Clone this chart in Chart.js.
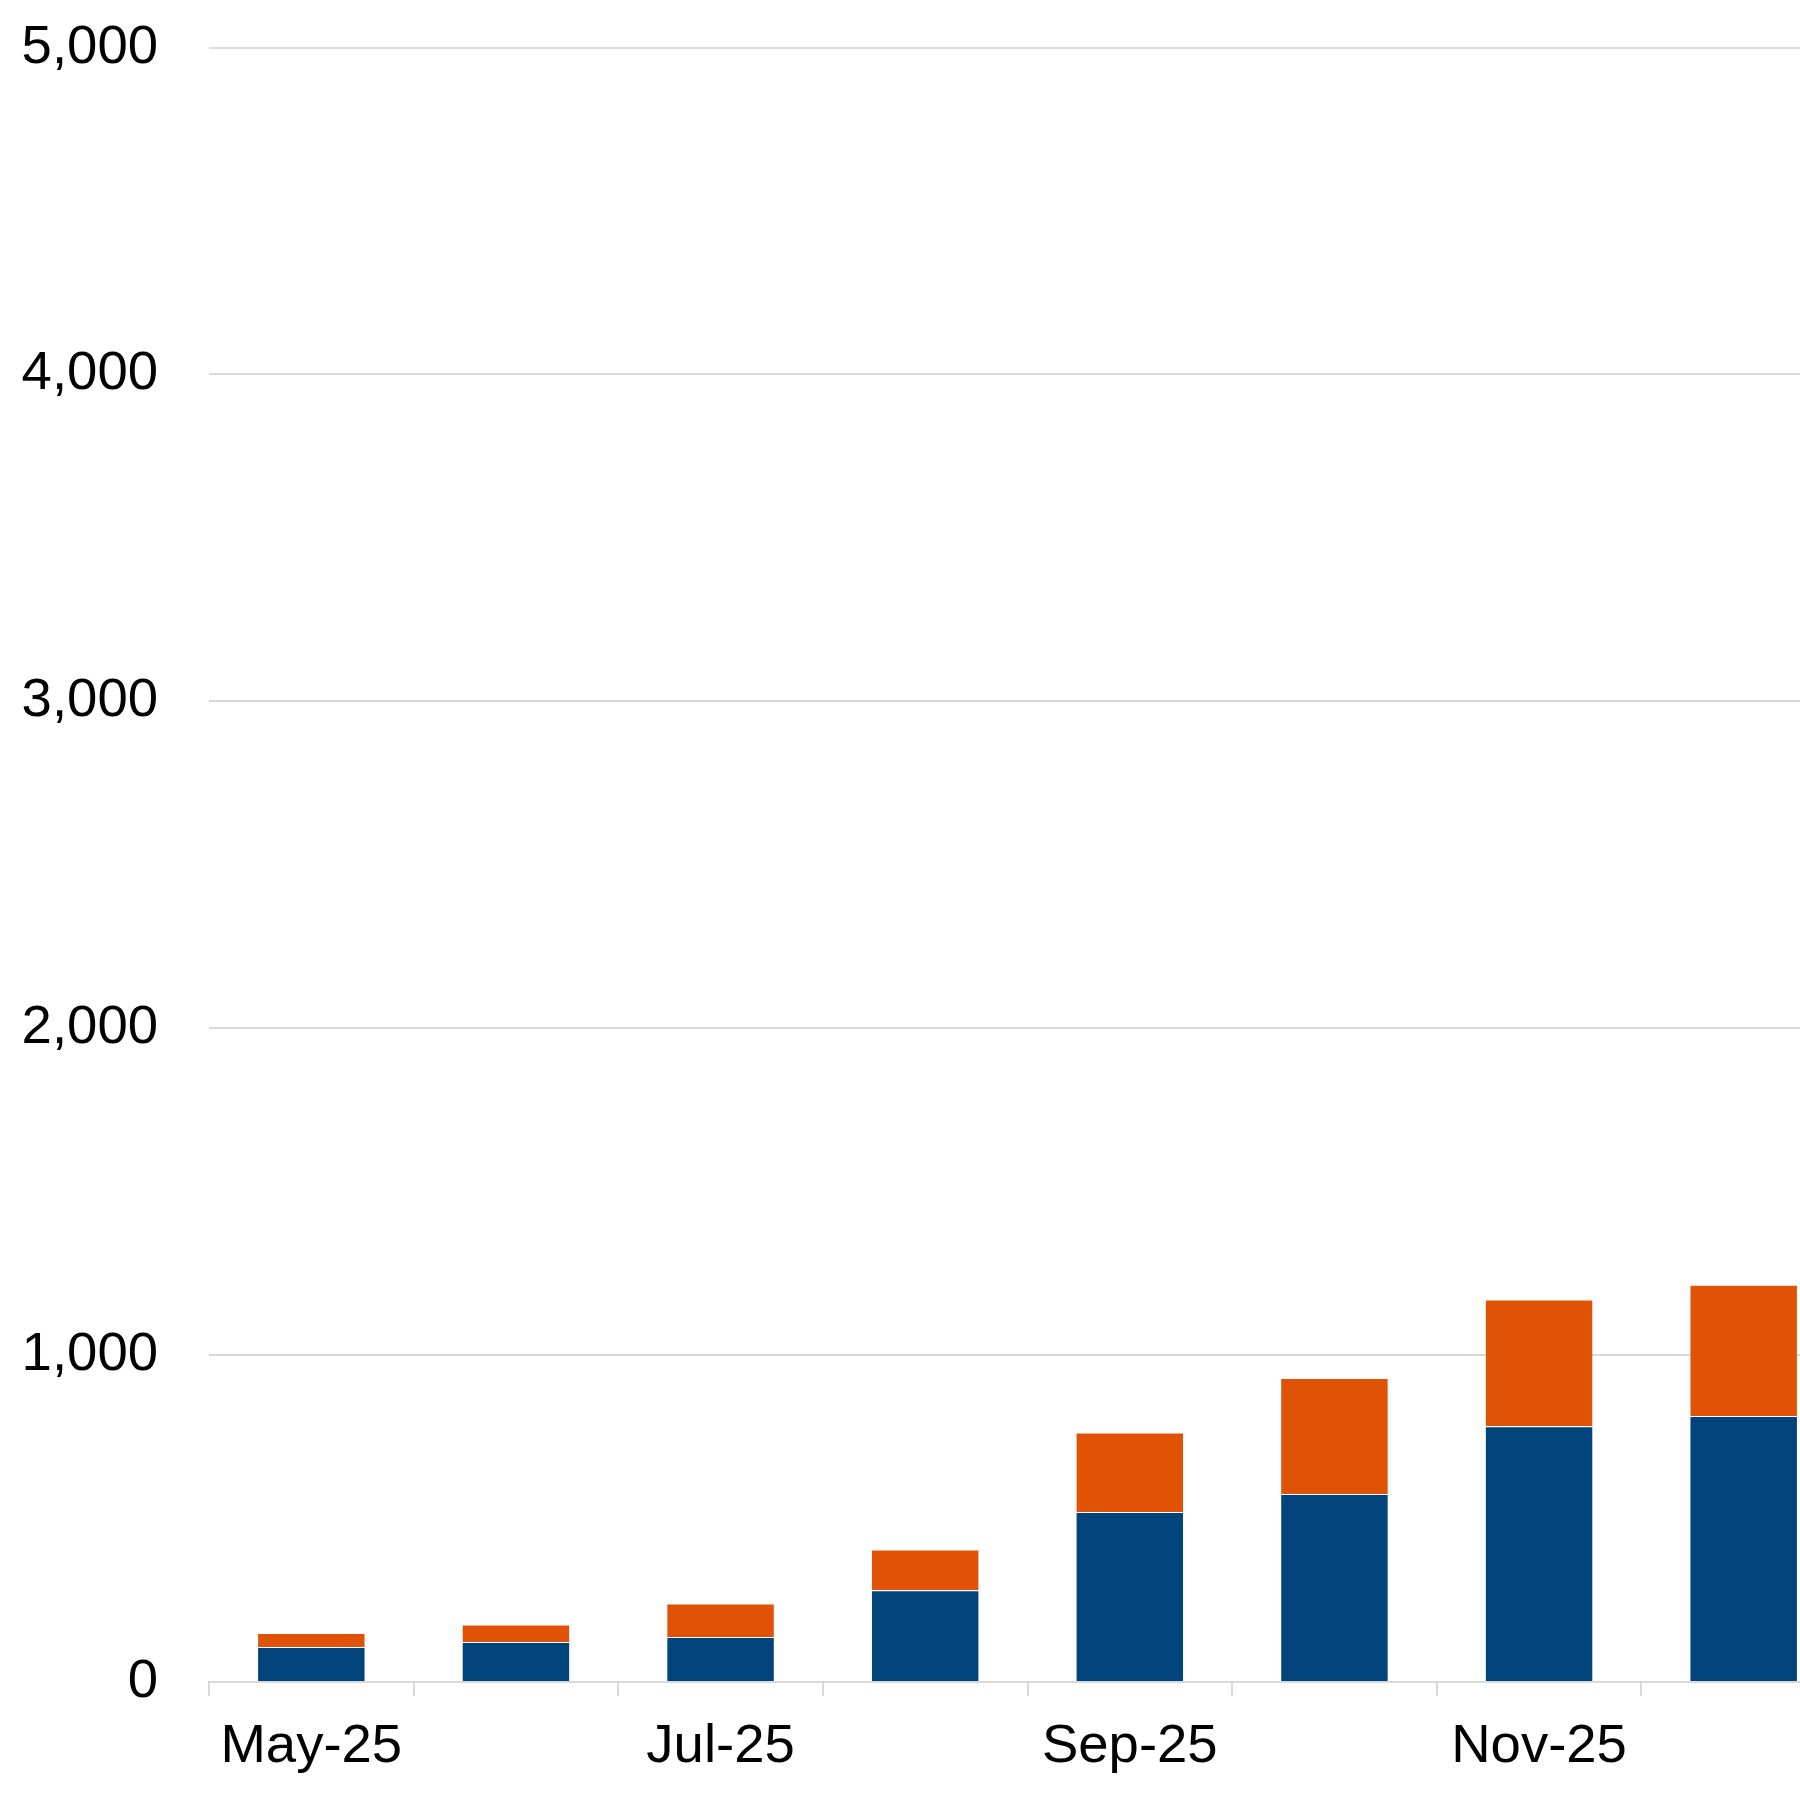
<!DOCTYPE html>
<html>
<head>
<meta charset="utf-8">
<script src="https://cdn.jsdelivr.net/npm/chart.js@4/dist/chart.umd.min.js"></script>
<style>
    html, body { margin: 0; padding: 0; overflow: hidden; background: #ffffff; }
    /* chart is a bit wider than the window: the last bar is cut at the right edge */
    #wrap { position: relative; width: 1850px; height: 1800px; }
</style>
</head>
<body>
<div id="wrap"><canvas id="chart"></canvas></div>
<script>
// ---- data ----
const months = ['May-25', 'Jun-25', 'Jul-25', 'Aug-25', 'Sep-25', 'Oct-25', 'Nov-25', 'Dec-25'];
const baseValues = [107, 122, 138, 281, 520, 575, 782, 814];
const topValues = [43, 54, 102, 124, 243, 355, 388, 401];
const yTicks = [0, 1000, 2000, 3000, 4000, 5000];

const FONT = '"Liberation Sans", Arial, sans-serif';
const FONT_SIZE = 54.5;
const GRID = '#d9d9d9';

const ctx = document.getElementById('chart');

new Chart(ctx, {
    type: 'bar',
    data: {
        labels: months,
        datasets: [
            {
                label: 'Base',
                data: baseValues,
                backgroundColor: '#00447b',
                borderColor: 'rgba(255,255,255,0.25)',
                borderWidth: 1,
                barPercentage: 0.53,
                categoryPercentage: 1.0
            },
            {
                label: 'Top',
                data: topValues,
                backgroundColor: '#e05206',
                borderColor: 'rgba(255,255,255,0.25)',
                borderWidth: 1,
                barPercentage: 0.53,
                categoryPercentage: 1.0
            }
        ]
    },
    options: {
        responsive: true,
        maintainAspectRatio: false,
        animation: false,
        layout: {
            padding: { top: 0, right: 4, bottom: 0, left: 0 }
        },
        plugins: {
            legend: { display: false },
            tooltip: { enabled: false }
        },
        scales: {
            x: {
                stacked: true,
                grid: {
                    display: true,
                    drawOnChartArea: false,
                    drawTicks: true,
                    tickLength: 14,
                    color: GRID,
                    lineWidth: 2
                },
                border: { display: true, color: GRID, width: 2 },
                ticks: {
                    autoSkip: false,
                    maxRotation: 0,
                    padding: 18,
                    color: '#000000',
                    font: { family: FONT, size: FONT_SIZE },
                    // only every other month is labelled
                    callback: function (value, index) {
                        return index % 2 === 0 ? months[index] : '';
                    }
                },
                afterFit: function (axis) {
                    axis.height = 118;
                }
            },
            y: {
                stacked: true,
                min: 0,
                max: 5000,
                afterBuildTicks: function (axis) {
                    axis.ticks = yTicks.map(v => ({ value: v }));
                },
                grid: {
                    color: GRID,
                    lineWidth: 2,
                    drawTicks: false
                },
                border: { display: false },
                ticks: {
                    padding: 51,
                    color: '#000000',
                    font: { family: FONT, size: FONT_SIZE },
                    callback: function (value) {
                        return value.toLocaleString('en-US');
                    }
                },
                afterFit: function (axis) {
                    axis.width = 209;
                    axis.paddingTop = 47.5;
                    axis.paddingBottom = 0;
                }
            }
        }
    }
});
</script>
</body>
</html>
